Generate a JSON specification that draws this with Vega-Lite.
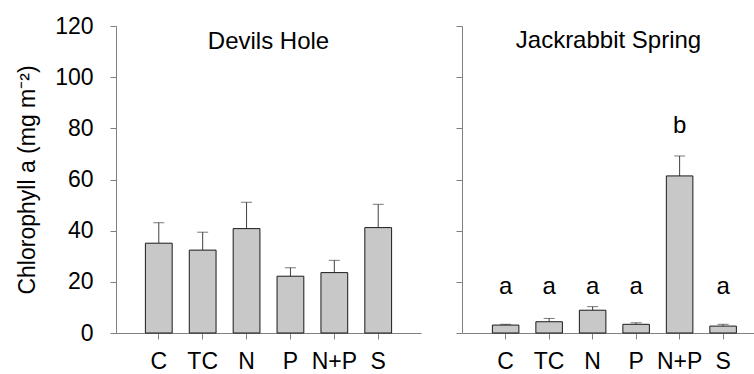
{
  "$schema": "https://vega.github.io/schema/vega-lite/v6.json",
  "padding": {"left": 16, "top": 15, "right": 0, "bottom": 0},
  "background": "white",
  "spacing": 41,
  "bounds": "flush",
  "config": {
    "view": {"stroke": null},
    "font": "Liberation Sans",
    "axis": {
      "grid": false,
      "domainColor": "#808080",
      "tickColor": "#808080",
      "labelColor": "#000000",
      "titleColor": "#000000",
      "labelFont": "Liberation Sans",
      "titleFont": "Liberation Sans",
      "labelFontSize": 23,
      "titleFontSize": 23,
      "titleFontWeight": "normal",
      "tickSize": 6
    }
  },
  "datasets": {
    "devils": [
      {"treatment": "C", "mean": 35.1, "upper": 43.1},
      {"treatment": "TC", "mean": 32.4, "upper": 39.4},
      {"treatment": "N", "mean": 40.8, "upper": 51.1},
      {"treatment": "P", "mean": 22.2, "upper": 25.5},
      {"treatment": "N+P", "mean": 23.6, "upper": 28.4},
      {"treatment": "S", "mean": 41.2, "upper": 50.3}
    ],
    "jackrabbit": [
      {"treatment": "C", "mean": 3.1, "upper": 3.4, "letter": "a", "letter_y": 18},
      {"treatment": "TC", "mean": 4.4, "upper": 5.7, "letter": "a", "letter_y": 18},
      {"treatment": "N", "mean": 8.9, "upper": 10.3, "letter": "a", "letter_y": 18},
      {"treatment": "P", "mean": 3.4, "upper": 4.0, "letter": "a", "letter_y": 18},
      {"treatment": "N+P", "mean": 61.4, "upper": 69.2, "letter": "b", "letter_y": 81},
      {"treatment": "S", "mean": 2.7, "upper": 3.4, "letter": "a", "letter_y": 18}
    ]
  },
  "hconcat": [
    {
      "width": 305,
      "height": 307,
      "data": {"name": "devils"},
      "title": {"text": "Devils Hole", "offset": -39, "fontSize": 24, "fontWeight": "normal", "font": "Liberation Sans", "anchor": "middle", "frame": "group", "color": "#000000"},
      "encoding": {
        "x": {
          "field": "treatment", "type": "nominal", "sort": null,
          "scale": {"paddingInner": 0.39, "paddingOuter": 0.67},
          "axis": {"title": null, "labelAngle": 0, "labelPadding": 11}
        }
      },
      "layer": [
        {
          "mark": {"type": "rule", "color": "#404040", "strokeWidth": 1},
          "encoding": {
            "y": {"field": "mean", "type": "quantitative"},
            "y2": {"field": "upper"}
          }
        },
        {
          "mark": {"type": "tick", "color": "#404040", "size": 11, "thickness": 1},
          "encoding": {"y": {"field": "upper", "type": "quantitative"}}
        },
        {
          "mark": {"type": "bar", "fill": "#c8c8c8", "stroke": "#1a1a1a", "strokeWidth": 1},
          "encoding": {
            "y": {
              "field": "mean", "type": "quantitative",
              "scale": {"domain": [0, 120], "nice": false},
              "axis": {"title": "Chlorophyll a (mg m⁻²)", "values": [0, 20, 40, 60, 80, 100, 120], "labelPadding": 17, "titlePadding": 15}
            }
          }
        }
      ]
    },
    {
      "width": 293,
      "height": 307,
      "data": {"name": "jackrabbit"},
      "title": {"text": "Jackrabbit Spring", "offset": -27, "fontSize": 24, "fontWeight": "normal", "font": "Liberation Sans", "anchor": "middle", "frame": "group", "color": "#000000"},
      "encoding": {
        "x": {
          "field": "treatment", "type": "nominal", "sort": null,
          "scale": {"paddingInner": 0.39, "paddingOuter": 0.563, "align": 0.62},
          "axis": {"title": null, "labelAngle": 0, "labelPadding": 11}
        }
      },
      "layer": [
        {
          "mark": {"type": "rule", "color": "#404040", "strokeWidth": 1},
          "encoding": {
            "y": {"field": "mean", "type": "quantitative"},
            "y2": {"field": "upper"}
          }
        },
        {
          "mark": {"type": "tick", "color": "#404040", "size": 11, "thickness": 1},
          "encoding": {"y": {"field": "upper", "type": "quantitative"}}
        },
        {
          "mark": {"type": "bar", "fill": "#c8c8c8", "stroke": "#1a1a1a", "strokeWidth": 1},
          "encoding": {
            "y": {
              "field": "mean", "type": "quantitative",
              "scale": {"domain": [0, 120], "nice": false},
              "axis": {"title": null, "labels": false, "values": [0, 20, 40, 60, 80, 100, 120]}
            }
          }
        },
        {
          "mark": {"type": "text", "fontSize": 24, "font": "Liberation Sans", "color": "#000000", "baseline": "middle"},
          "encoding": {
            "y": {"field": "letter_y", "type": "quantitative"},
            "text": {"field": "letter"}
          }
        }
      ]
    }
  ]
}
